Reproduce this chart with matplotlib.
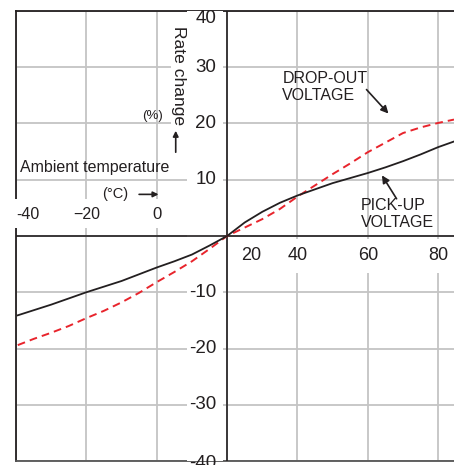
import matplotlib
matplotlib.use('Agg')
import matplotlib.pyplot as plt
from matplotlib.patches import Rectangle
from matplotlib.transforms import offset_copy

plt.rcParams['font.family'] = ['Liberation Sans', 'DejaVu Sans']

# ambient temperature (deg C) and rate change (%)
temp = [-39.5, -35, -30, -25, -20, -15, -10, -5, 0, 5, 10, 15, 20,
        25, 30, 35, 40, 45, 50, 55, 60, 65, 70, 75, 80, 84.5]
pick_up = [-14.1, -13.2, -12.2, -11.1, -10.0, -9.0, -8.0, -6.8, -5.6, -4.5, -3.3, -1.7, 0,
           2.4, 4.3, 5.9, 7.2, 8.3, 9.4, 10.3, 11.2, 12.2, 13.3, 14.5, 15.8, 16.8]
drop_out = [-19.4, -18.3, -17.2, -16.0, -14.6, -13.3, -11.8, -10.1, -8.2, -6.4, -4.5, -2.3, 0,
            1.5, 3.0, 4.8, 7.0, 9.0, 11.0, 12.9, 14.9, 16.6, 18.3, 19.3, 20.1, 20.7]

x_ticks = [-40, -20, 0, 20, 40, 60, 80]
x_tick_labels = ['-40', '\u221220', '0', '20', '40', '60', '80']
y_ticks = [-40, -30, -20, -10, 10, 20, 30, 40]
y_tick_labels = ['-40', '-30', '-20', '-10', '10', '20', '30', '40']

ref_temp = 20  # the y axis crosses at 20 deg C
dark = '#231f20'
red = '#e8242c'
grid_c = '#c4c4c4'

fig = plt.figure(figsize=(4.54, 4.65), dpi=100)
ax = fig.add_axes([16 / 454, 4 / 465, 438 / 454, 450 / 465])
ax.set_xlim(-40, 84.5)
ax.set_ylim(-40, 40)

ax.set_xticks(x_ticks)
ax.set_yticks(y_ticks + [0])
ax.tick_params(length=0, labelbottom=False, labelleft=False)
ax.grid(True, color=grid_c, lw=1.3, zorder=0)
ax.set_axisbelow(True)
for side in ['left', 'top']:
    ax.spines[side].set_color(dark)
    ax.spines[side].set_linewidth(1.3)
ax.spines['bottom'].set_color('#555555')
ax.spines['bottom'].set_linewidth(1.3)
ax.spines['right'].set_visible(False)

# white bands behind the tick labels
ax.add_patch(Rectangle((8.6, -41), 10.3, 82, facecolor='white', edgecolor='none', zorder=3))
ax.add_patch(Rectangle((-46, 1.5), 49.4, 5.0, facecolor='white', edgecolor='none',
                       zorder=3, clip_on=False))
ax.add_patch(Rectangle((21.2, -6.5), 70, 5.9, facecolor='white', edgecolor='none', zorder=3))

ax.axhline(0, color=dark, lw=1.2, zorder=4)
ax.axvline(ref_temp, color=dark, lw=1.2, zorder=4)

ax.plot(temp, pick_up, color=dark, lw=1.3, zorder=6)
dline, = ax.plot(temp, drop_out, color=red, lw=1.4, zorder=5)
dline.set_dashes([4, 2.6])

# tick labels
for v, lab in zip(y_ticks, y_tick_labels):
    va = 'top' if v == 40 else 'center'
    dy = 1 if v == 40 else 0
    if v == -40:
        dy = -2
    tr = offset_copy(ax.transData, fig, x=-11, y=dy, units='dots')
    ax.text(ref_temp, v, lab, transform=tr, ha='right', va=va, fontsize=13.5,
            color=dark, zorder=7, clip_on=False)

for v, lab in zip(x_ticks, x_tick_labels):
    if v < ref_temp:
        dx = 12 if v == -40 else 0
        tr = offset_copy(ax.transData, fig, x=dx, y=22, units='dots')
        size = 11.5 if v != 0 else 12
        ax.text(v, 0, lab, transform=tr, ha='center', va='center', fontsize=size,
                color=dark, zorder=7)
    else:
        dx = 24 if v == ref_temp else 0
        tr = offset_copy(ax.transData, fig, x=dx, y=-19, units='dots')
        ax.text(v, 0, lab, transform=tr, ha='center', va='center', fontsize=13,
                color=dark, zorder=7)

# axis titles
ax.text(6.3, 37.4, 'Rate change', rotation=270, ha='center', va='top', fontsize=12.6,
        color=dark, zorder=7, bbox=dict(facecolor='white', edgecolor='none', pad=0.5))
ax.text(-1.1, 21.4, '(%)', ha='center', va='center', fontsize=9.5, color=dark, zorder=7)
ax.annotate('', xy=(5.4, 19.2), xytext=(5.4, 14.4),
            arrowprops=dict(arrowstyle='-|>', color=dark, lw=1.2, mutation_scale=8), zorder=7)
ax.text(-38.9, 12.2, 'Ambient temperature', ha='left', va='center', fontsize=11.5,
        color=dark, zorder=7)
ax.text(-15.5, 7.4, '(°C)', ha='left', va='center', fontsize=10.5, color=dark, zorder=7)
ax.annotate('', xy=(1.3, 7.4), xytext=(-5.8, 7.4),
            arrowprops=dict(arrowstyle='-|>', color=dark, lw=1.2, mutation_scale=8), zorder=7)

# curve annotations
ax.text(35.7, 29.4, 'DROP-OUT\nVOLTAGE', ha='left', va='top', fontsize=11.5,
        color=dark, linespacing=1.2, zorder=7)
ax.annotate('', xy=(66.4, 21.4), xytext=(59.1, 26.4),
            arrowprops=dict(arrowstyle='-|>', color=dark, lw=1.2, mutation_scale=11), zorder=7)
ax.text(58.0, 6.8, 'PICK-UP\nVOLTAGE', ha='left', va='top', fontsize=11.5,
        color=dark, linespacing=1.2, zorder=7)
ax.annotate('', xy=(63.6, 11.2), xytext=(68.6, 6.2),
            arrowprops=dict(arrowstyle='-|>', color=dark, lw=1.2, mutation_scale=11), zorder=7)

fig.savefig('out.png', dpi=100, facecolor='white')
